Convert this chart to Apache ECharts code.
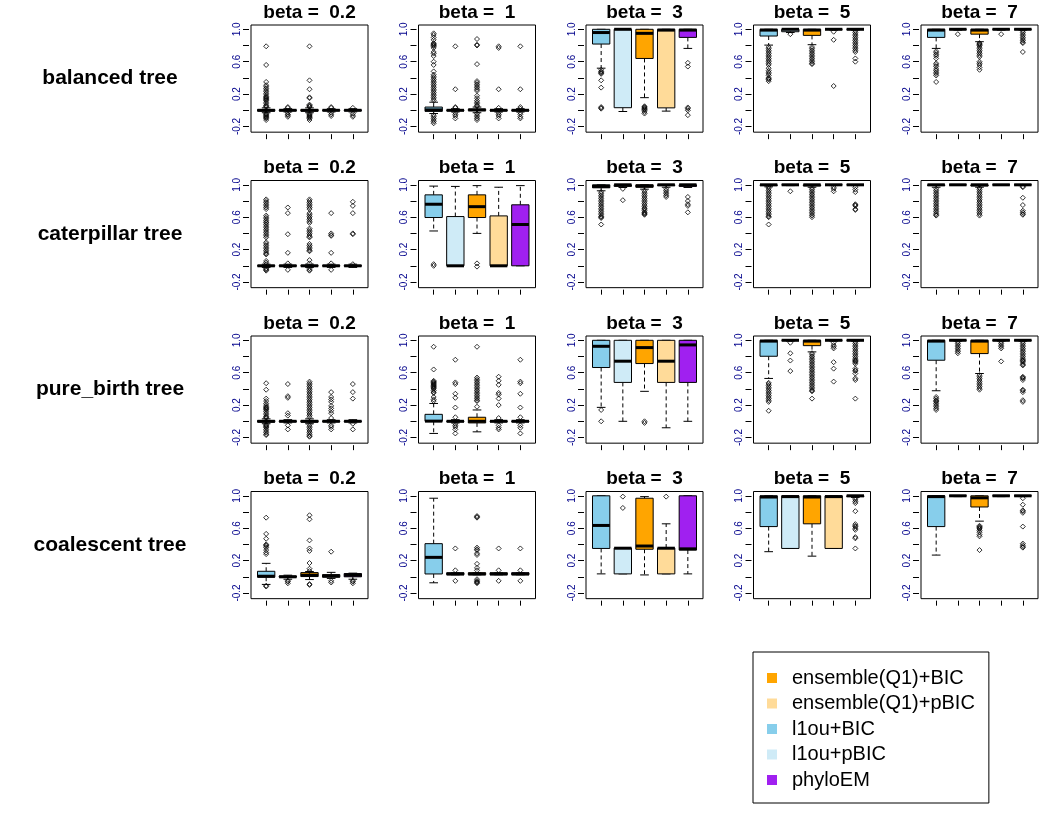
<!DOCTYPE html>
<html>
<head>
<meta charset="utf-8">
<title>boxplots</title>
<script src="https://cdn.jsdelivr.net/npm/echarts@6/dist/echarts.min.js"></script>
<style>
  html, body { margin: 0; padding: 0; background: #fff; }
  #main { width: 1064px; height: 831px; }
</style>
</head>
<body>
<div id="main"></div>
<script>
// ---- data ----
var treeNames = ['balanced tree', 'caterpillar tree', 'pure_birth tree', 'coalescent tree'];
var betaValues = ['0.2', '1', '3', '5', '7'];
var methodNames = ['l1ou+BIC', 'l1ou+pBIC', 'ensemble(Q1)+BIC', 'ensemble(Q1)+pBIC', 'phyloEM'];
var legendOrder = ['ensemble(Q1)+BIC', 'ensemble(Q1)+pBIC', 'l1ou+BIC', 'l1ou+pBIC', 'phyloEM'];
var methodColors = ['#87CEEB', '#CFEBF7', '#FFA500', '#FFDB99', '#A020F0'];
var yTicks = [-0.2, 0, 0.2, 0.4, 0.6, 0.8, 1.0];
var yTickLabels = [-0.2, 0.2, 0.6, 1.0];

// [min, Q1, median, Q3, max] per method, per beta
var balancedBoxes = [
  [[-0.03, -0.01, 0, 0.01, 0.03], [-0.02, -0.005, 0, 0.005, 0.02], [-0.03, -0.01, 0, 0.01, 0.03], [-0.02, -0.005, 0, 0.005, 0.02], [-0.02, -0.005, 0, 0.005, 0.02]],
  [[-0.04, -0.013, 0.005, 0.04, 0.1], [-0.02, -0.005, 0, 0.005, 0.02], [-0.03, -0.005, 0.005, 0.015, 0.04], [-0.02, -0.005, 0, 0.005, 0.02], [-0.02, -0.005, 0, 0.005, 0.02]],
  [[0.52, 0.818, 0.96, 1.0, 1.0], [-0.015, 0.032, 1.0, 1.0, 1.0], [0.156, 0.64, 0.95, 1.0, 1.0], [-0.01, 0.03, 0.99, 1.0, 1.0], [0.764, 0.9, 0.99, 1.0, 1.0]],
  [[0.805, 0.917, 0.99, 1.0, 1.0], [0.96, 0.97, 1.0, 1.0, 1.0], [0.81, 0.925, 0.99, 1.0, 1.0], [0.99, 1.0, 1.0, 1.0, 1.0], [0.99, 1.0, 1.0, 1.0, 1.0]],
  [[0.764, 0.9, 0.99, 1.0, 1.0], [0.99, 1.0, 1.0, 1.0, 1.0], [0.847, 0.94, 0.99, 1.0, 1.0], [0.99, 1.0, 1.0, 1.0, 1.0], [0.99, 1.0, 1.0, 1.0, 1.0]]
];
var balancedOutliers = [
  [[0.79, 0.56, 0.35, 0.31, 0.29, 0.27, 0.25, 0.23, 0.21, 0.19, 0.17, 0.16, 0.15, 0.14, 0.13, 0.12, 0.1, 0.08, 0.06, 0.05, 0.04, -0.04, -0.05, -0.06, -0.07, -0.08, -0.09, -0.1, -0.12],
   [0.04, 0.03, -0.03, -0.05, -0.06, -0.08],
   [0.79, 0.37, 0.26, 0.16, 0.15, 0.07, 0.06, 0.05, 0.04, -0.04, -0.05, -0.06, -0.07, -0.08, -0.09, -0.1, -0.12],
   [0.04, 0.03, -0.03, -0.05, -0.07],
   [0.03, -0.04, -0.06, -0.08]],
  [[0.95, 0.93, 0.9, 0.87, 0.83, 0.82, 0.81, 0.8, 0.79, 0.77, 0.72, 0.7, 0.67, 0.6, 0.56, 0.48, 0.44, 0.42, 0.4, 0.38, 0.36, 0.34, 0.32, 0.3, 0.28, 0.26, 0.24, 0.22, 0.2, 0.18, 0.16, 0.14, 0.12, -0.06, -0.08, -0.1, -0.12, -0.14, -0.16],
   [0.79, 0.26, 0.04, 0.03, -0.03, -0.05, -0.07, -0.1],
   [0.88, 0.81, 0.8, 0.57, 0.36, 0.34, 0.32, 0.3, 0.28, 0.26, 0.24, 0.18, 0.15, 0.12, 0.1, 0.08, 0.06, 0.05, -0.04, -0.06, -0.08, -0.1, -0.12],
   [0.79, 0.77, 0.26, 0.03, -0.03, -0.05, -0.07, -0.1],
   [0.79, 0.26, 0.04, 0.02, -0.03, -0.05, -0.08, -0.1]],
  [[0.5, 0.48, 0.47, 0.46, 0.45, 0.37, 0.28, 0.04, 0.03, 0.02],
   [],
   [0.05, 0.04, 0.03, 0.02, 0.01, 0.0, -0.02, -0.04],
   [],
   [0.586, 0.54, 0.035, 0.02, 0.0, -0.06]],
  [[0.78, 0.76, 0.74, 0.72, 0.7, 0.68, 0.66, 0.64, 0.62, 0.6, 0.58, 0.56, 0.52, 0.49, 0.47, 0.45, 0.43, 0.4, 0.39, 0.38, 0.36],
   [0.94],
   [0.78, 0.76, 0.74, 0.72, 0.7, 0.68, 0.66, 0.64, 0.62, 0.6, 0.58, 0.57],
   [0.97, 0.87, 0.3],
   [0.98, 0.96, 0.94, 0.92, 0.9, 0.88, 0.86, 0.84, 0.82, 0.8, 0.78, 0.76, 0.74, 0.72, 0.64, 0.6]],
  [[0.73, 0.71, 0.69, 0.67, 0.64, 0.58, 0.56, 0.54, 0.51, 0.49, 0.47, 0.45, 0.43, 0.35],
   [0.94],
   [0.83, 0.82, 0.81, 0.8, 0.78, 0.76, 0.74, 0.72, 0.7, 0.68, 0.66, 0.6, 0.58, 0.56, 0.53, 0.5],
   [0.94],
   [0.98, 0.96, 0.94, 0.92, 0.9, 0.88, 0.86, 0.84, 0.83, 0.72]]
];

var caterpillarBoxes = [
  [[-0.02, -0.005, 0, 0.005, 0.02], [-0.02, -0.005, 0, 0.005, 0.02], [-0.02, -0.005, 0, 0.005, 0.02], [-0.02, -0.005, 0, 0.005, 0.02], [-0.02, -0.005, 0, 0.005, 0.02]],
  [[0.43, 0.596, 0.76, 0.876, 0.984], [0, 0, 0, 0.608, 0.98], [0.4, 0.596, 0.73, 0.876, 0.99], [0, 0, 0, 0.616, 0.97], [0, 0, 0.51, 0.753, 0.99]],
  [[0.926, 0.963, 0.98, 1.0, 1.0], [0.967, 0.98, 1.0, 1.0, 1.0], [0.946, 0.97, 0.985, 1.0, 1.0], [0.97, 0.99, 1.0, 1.0, 1.0], [0.967, 0.98, 1.0, 1.0, 1.0]],
  [[0.975, 0.99, 1.0, 1.0, 1.0], [0.99, 1.0, 1.0, 1.0, 1.0], [0.97, 0.985, 1.0, 1.0, 1.0], [0.99, 1.0, 1.0, 1.0, 1.0], [0.99, 1.0, 1.0, 1.0, 1.0]],
  [[0.97, 0.99, 1.0, 1.0, 1.0], [1.0, 1.0, 1.0, 1.0, 1.0], [0.97, 0.985, 1.0, 1.0, 1.0], [1.0, 1.0, 1.0, 1.0, 1.0], [0.99, 1.0, 1.0, 1.0, 1.0]]
];
var caterpillarOutliers = [
  [[0.82, 0.8, 0.78, 0.76, 0.74, 0.72, 0.7, 0.62, 0.6, 0.58, 0.56, 0.54, 0.53, 0.51, 0.49, 0.47, 0.45, 0.43, 0.41, 0.39, 0.37, 0.35, 0.29, 0.27, 0.25, 0.23, 0.21, 0.19, 0.17, 0.15, 0.14, 0.06, 0.04, 0.02, -0.03, -0.04, -0.05, -0.06],
   [0.72, 0.65, 0.39, 0.16, 0.03, -0.05],
   [0.82, 0.8, 0.78, 0.76, 0.74, 0.72, 0.7, 0.65, 0.63, 0.61, 0.59, 0.57, 0.55, 0.53, 0.46, 0.44, 0.42, 0.4, 0.38, 0.36, 0.35, 0.27, 0.25, 0.23, 0.21, 0.19, 0.18, 0.07, 0.03, -0.03, -0.05, -0.06],
   [0.65, 0.4, 0.38, 0.37, 0.16, 0.03, -0.05],
   [0.79, 0.74, 0.65, 0.4, 0.39, 0.02]],
  [[0.02, 0.0], [], [0.03, -0.01], [], []],
  [[0.91, 0.89, 0.87, 0.85, 0.83, 0.81, 0.79, 0.77, 0.75, 0.73, 0.71, 0.69, 0.67, 0.65, 0.63, 0.61, 0.6, 0.59, 0.51],
   [0.95, 0.81],
   [0.93, 0.91, 0.89, 0.87, 0.85, 0.83, 0.81, 0.79, 0.77, 0.75, 0.73, 0.71, 0.7, 0.68, 0.66, 0.65, 0.64, 0.63],
   [0.95, 0.93, 0.91, 0.89, 0.87, 0.85],
   [0.85, 0.8, 0.76, 0.74, 0.66]],
  [[0.97, 0.95, 0.93, 0.91, 0.89, 0.87, 0.85, 0.83, 0.81, 0.79, 0.77, 0.75, 0.73, 0.71, 0.69, 0.67, 0.65, 0.63, 0.61, 0.6, 0.51],
   [0.92],
   [0.96, 0.94, 0.92, 0.9, 0.88, 0.86, 0.84, 0.82, 0.8, 0.78, 0.76, 0.74, 0.72, 0.7, 0.68, 0.66, 0.64, 0.62, 0.6],
   [0.97, 0.95, 0.92],
   [0.97, 0.94, 0.91, 0.76, 0.75, 0.74, 0.7, 0.69]],
  [[0.95, 0.93, 0.91, 0.89, 0.87, 0.85, 0.83, 0.81, 0.79, 0.77, 0.75, 0.73, 0.71, 0.69, 0.67, 0.65, 0.63, 0.62],
   [],
   [0.96, 0.94, 0.92, 0.9, 0.88, 0.86, 0.84, 0.82, 0.8, 0.78, 0.76, 0.74, 0.72, 0.7, 0.68, 0.66, 0.64, 0.62],
   [],
   [0.98, 0.97, 0.84, 0.75, 0.68, 0.66, 0.64, 0.63]]
];

var pureBirthBoxes = [
  [[-0.03, -0.01, 0, 0.01, 0.03], [-0.02, -0.005, 0, 0.005, 0.02], [-0.03, -0.01, 0, 0.01, 0.03], [-0.02, -0.005, 0, 0.005, 0.02], [-0.02, -0.005, 0, 0.005, 0.02]],
  [[-0.15, 0.0, 0.002, 0.086, 0.22], [-0.02, -0.005, 0, 0.005, 0.02], [-0.13, -0.02, 0.0, 0.05, 0.14], [-0.02, -0.005, 0, 0.005, 0.02], [-0.02, -0.005, 0, 0.005, 0.02]],
  [[0.172, 0.664, 0.926, 1.0, 1.0], [0.0, 0.48, 0.742, 1.0, 1.0], [0.37, 0.713, 0.91, 1.0, 1.0], [-0.08, 0.48, 0.742, 1.0, 1.0], [0.0, 0.48, 0.943, 1.0, 1.0]],
  [[0.529, 0.803, 0.99, 1.0, 1.0], [0.99, 1.0, 1.0, 1.0, 1.0], [0.857, 0.934, 0.99, 1.0, 1.0], [0.99, 1.0, 1.0, 1.0, 1.0], [0.99, 1.0, 1.0, 1.0, 1.0]],
  [[0.377, 0.754, 0.99, 1.0, 1.0], [0.99, 1.0, 1.0, 1.0, 1.0], [0.59, 0.836, 0.99, 1.0, 1.0], [0.99, 1.0, 1.0, 1.0, 1.0], [0.99, 1.0, 1.0, 1.0, 1.0]]
];
var pureBirthOutliers = [
  [[0.47, 0.39, 0.28, 0.25, 0.22, 0.2, 0.18, 0.17, 0.16, 0.15, 0.14, 0.12, 0.1, 0.08, 0.06, 0.05, 0.04, -0.04, -0.05, -0.06, -0.07, -0.08, -0.1, -0.12, -0.14, -0.16, -0.17],
   [0.46, 0.31, 0.29, 0.1, 0.07, -0.05, -0.1],
   [0.49, 0.47, 0.45, 0.43, 0.41, 0.39, 0.37, 0.35, 0.33, 0.31, 0.29, 0.27, 0.25, 0.23, 0.21, 0.19, 0.17, 0.15, 0.13, 0.11, 0.09, 0.07, 0.05, -0.04, -0.06, -0.08, -0.1, -0.12, -0.14, -0.16, -0.18, -0.19],
   [0.36, 0.3, 0.27, 0.24, 0.19, 0.16, 0.13, 0.1, 0.04, -0.05, -0.07, -0.1],
   [0.46, 0.36, 0.28, -0.03, -0.1]],
  [[0.92, 0.64, 0.5, 0.49, 0.48, 0.47, 0.46, 0.45, 0.44, 0.43, 0.42, 0.41, 0.4, 0.38, 0.36, 0.35, 0.3, 0.27, 0.25],
   [0.76, 0.48, 0.46, 0.34, 0.29, 0.17, 0.05, -0.03, -0.05, -0.07, -0.1, -0.15],
   [0.92, 0.54, 0.52, 0.5, 0.48, 0.46, 0.44, 0.42, 0.4, 0.38, 0.36, 0.34, 0.32, 0.3, 0.28, 0.26, 0.25, 0.18],
   [0.55, 0.5, 0.45, 0.35, 0.33, 0.28, 0.2, 0.04, -0.05, -0.08, -0.1],
   [0.76, 0.49, 0.47, 0.34, 0.17, 0.05, -0.05, -0.08, -0.15]],
  [[0.14, 0.0], [], [0.0, -0.02], [], []],
  [[0.475, 0.46, 0.44, 0.42, 0.4, 0.38, 0.36, 0.34, 0.32, 0.3, 0.28, 0.26, 0.24, 0.13],
   [0.97, 0.84, 0.75, 0.62],
   [0.84, 0.82, 0.8, 0.78, 0.76, 0.74, 0.72, 0.7, 0.68, 0.66, 0.64, 0.62, 0.6, 0.58, 0.56, 0.54, 0.52, 0.5, 0.48, 0.46, 0.44, 0.42, 0.4, 0.38, 0.37, 0.28],
   [0.97, 0.94, 0.92, 0.9, 0.73, 0.65, 0.49],
   [0.98, 0.96, 0.94, 0.92, 0.9, 0.88, 0.86, 0.84, 0.82, 0.8, 0.78, 0.76, 0.75, 0.74, 0.73, 0.71, 0.65, 0.63, 0.62, 0.59, 0.53, 0.51, 0.28]],
  [[0.3, 0.28, 0.26, 0.25, 0.24, 0.22, 0.2, 0.18, 0.16, 0.14],
   [0.98, 0.96, 0.94, 0.92, 0.9, 0.88, 0.86, 0.84],
   [0.57, 0.55, 0.53, 0.51, 0.49, 0.47, 0.45, 0.43, 0.41, 0.39],
   [0.98, 0.96, 0.94, 0.92, 0.9, 0.74],
   [0.98, 0.96, 0.94, 0.92, 0.9, 0.88, 0.86, 0.84, 0.82, 0.8, 0.78, 0.76, 0.75, 0.74, 0.72, 0.7, 0.69, 0.55, 0.54, 0.53, 0.51, 0.39, 0.38, 0.36, 0.26, 0.24]]
];

var coalescentBoxes = [
  [[-0.094, -0.005, 0.007, 0.068, 0.166], [-0.03, -0.005, 0.0, 0.01, 0.02], [-0.034, 0.003, 0.02, 0.052, 0.065], [-0.02, -0.005, 0.01, 0.027, 0.055], [-0.03, 0.0, 0.02, 0.04, 0.045]],
  [[-0.074, 0.035, 0.24, 0.409, 0.97], [0.025, 0.025, 0.035, 0.05, 0.05], [0.025, 0.025, 0.035, 0.05, 0.05], [0.025, 0.025, 0.035, 0.05, 0.05], [0.025, 0.025, 0.035, 0.05, 0.05]],
  [[0.036, 0.35, 0.634, 1.0, 1.0], [0.036, 0.036, 0.353, 0.355, 0.355], [0.023, 0.34, 0.38, 0.97, 0.99], [0.036, 0.036, 0.353, 0.355, 0.654], [0.036, 0.33, 0.345, 1.0, 1.0]],
  [[0.31, 0.62, 0.985, 1.0, 1.0], [0.35, 0.35, 0.99, 1.0, 1.0], [0.255, 0.654, 0.985, 1.0, 1.0], [0.35, 0.35, 0.99, 1.0, 1.0], [0.98, 0.99, 1.0, 1.0, 1.0]],
  [[0.268, 0.62, 0.99, 1.0, 1.0], [0.99, 1.0, 1.0, 1.0, 1.0], [0.687, 0.862, 0.975, 1.0, 1.0], [0.99, 1.0, 1.0, 1.0, 1.0], [0.99, 1.0, 1.0, 1.0, 1.0]]
];
var coalescentOutliers = [
  [[0.73, 0.53, 0.47, 0.4, 0.39, 0.38, 0.36, 0.33, 0.3, 0.28, -0.11, -0.12],
   [-0.05, -0.06, -0.08],
   [0.76, 0.71, 0.45, 0.35, 0.32, 0.17, 0.1, 0.07, -0.09, -0.1],
   [0.31, -0.05, -0.07],
   [-0.05, -0.06, -0.08]],
  [[],
   [0.35, 0.08, -0.05],
   [0.75, 0.74, 0.73, 0.36, 0.34, 0.33, 0.29, 0.27, 0.16, 0.11, 0.08, -0.03, -0.05, -0.06, -0.07, -0.08],
   [0.35, 0.08, -0.05],
   [0.35, 0.08, -0.05]],
  [[], [0.99, 0.85], [], [0.99], []],
  [[], [], [], [], [0.97, 0.95, 0.93, 0.91, 0.81, 0.65, 0.63, 0.62, 0.6, 0.58, 0.49, 0.475, 0.35]],
  [[], [], [0.63, 0.62, 0.61, 0.6, 0.59, 0.57, 0.55, 0.52, 0.5, 0.33], [], [0.97, 0.89, 0.82, 0.81, 0.79, 0.62, 0.41, 0.39, 0.37, 0.36]]
];

var allBoxes = [balancedBoxes, caterpillarBoxes, pureBirthBoxes, coalescentBoxes];
var allOutliers = [balancedOutliers, caterpillarOutliers, pureBirthOutliers, coalescentOutliers];

// ---- layout ----
var FONT = "'Liberation Sans', Arial, sans-serif";
var colLeft = 251, colStep = 167.5, plotW = 117;
var rowOne = 29.3, rowStep = 155.5, unitPx = 81;
var yMin = -0.27, yMax = 1.053;

// R-style box: dashed whiskers, half-width staples, thick median
function boxRenderer(color) {
    return function (params, api) {
        var x = api.value(0);
        var lo = api.coord([x, api.value(1)]);
        var q1 = api.coord([x, api.value(2)]);
        var md = api.coord([x, api.value(3)]);
        var q3 = api.coord([x, api.value(4)]);
        var hi = api.coord([x, api.value(5)]);
        var half = api.size([0.8, 0])[0] / 2;
        var cap = half / 2;
        var cx = md[0];
        return {
            type: 'group',
            children: [
                { type: 'line', shape: { x1: cx, y1: q3[1], x2: cx, y2: hi[1] }, style: { stroke: '#000', lineWidth: 1, lineDash: [4, 3] } },
                { type: 'line', shape: { x1: cx, y1: q1[1], x2: cx, y2: lo[1] }, style: { stroke: '#000', lineWidth: 1, lineDash: [4, 3] } },
                { type: 'line', shape: { x1: cx - cap, y1: hi[1], x2: cx + cap, y2: hi[1] }, style: { stroke: '#000', lineWidth: 1 } },
                { type: 'line', shape: { x1: cx - cap, y1: lo[1], x2: cx + cap, y2: lo[1] }, style: { stroke: '#000', lineWidth: 1 } },
                { type: 'rect', shape: { x: cx - half, y: q3[1], width: half * 2, height: q1[1] - q3[1] },
                  style: { fill: color, stroke: '#000', lineWidth: 1 } },
                { type: 'line', shape: { x1: cx - half, y1: md[1], x2: cx + half, y2: md[1] },
                  style: { stroke: '#000', lineWidth: 3 } }
            ]
        };
    };
}

function labelFmt(v) { return Number(v).toFixed(1); }

function buildOption() {
    var grids = [], xAxes = [], yAxes = [], series = [], graphics = [];
    for (var r = 0; r < treeNames.length; r++) {
        var y1 = rowOne + rowStep * r;
        var top = y1 - (yMax - 1.0) * unitPx;
        var h = (yMax - yMin) * unitPx;

        graphics.push({
            type: 'text', x: 110, y: top + h / 2,
            style: { text: treeNames[r], font: 'bold 21px ' + FONT, fill: '#000', align: 'center', verticalAlign: 'middle' }
        });

        for (var c = 0; c < betaValues.length; c++) {
            var gi = grids.length;
            var left = colLeft + colStep * c;
            grids.push({ left: left, top: top, width: plotW, height: h, show: true, borderColor: '#000', borderWidth: 1 });
            xAxes.push({
                gridIndex: gi, type: 'value', min: 0.3, max: 5.7, offset: 2, position: 'bottom',
                axisLine: { show: false, onZero: false }, splitLine: { show: false }, axisLabel: { show: false },
                axisTick: { show: true, length: 5, customValues: [1, 2, 3, 4, 5], lineStyle: { color: '#000' } }
            });
            yAxes.push({
                gridIndex: gi, type: 'value', min: yMin, max: yMax, offset: 2, position: 'left',
                axisLine: { show: false, onZero: false }, splitLine: { show: false },
                axisTick: { show: true, length: 6, customValues: yTicks.slice(), lineStyle: { color: '#000' } },
                axisLabel: {
                    customValues: yTickLabels.slice(), rotate: 90, margin: 7, fontSize: 10, color: '#00008B',
                    formatter: labelFmt
                }
            });

            graphics.push({
                type: 'text', x: left + plotW / 2, y: y1 - 17,
                style: { text: 'beta =  ' + betaValues[c], font: 'bold 19px ' + FONT, fill: '#000', align: 'center', verticalAlign: 'middle' }
            });

            var boxes = allBoxes[r][c];
            var outs = allOutliers[r][c];
            var outData = [];
            for (var m = 0; m < methodNames.length; m++) {
                series.push({
                    type: 'custom', name: methodNames[m], xAxisIndex: gi, yAxisIndex: gi,
                    itemStyle: { color: methodColors[m] },
                    renderItem: boxRenderer(methodColors[m]),
                    encode: { x: 0, y: [1, 2, 3, 4, 5] },
                    data: [[m + 1].concat(boxes[m])]
                });
                for (var k = 0; k < outs[m].length; k++) outData.push([m + 1, outs[m][k]]);
            }
            series.push({
                type: 'scatter', name: 'outliers', xAxisIndex: gi, yAxisIndex: gi,
                symbol: 'diamond', symbolSize: 5,
                itemStyle: { color: 'transparent', borderColor: '#000', borderWidth: 1 },
                data: outData, silent: true
            });
        }
    }
    return {
        animation: false,
        grid: grids,
        xAxis: xAxes,
        yAxis: yAxes,
        series: series,
        graphic: graphics,
        legend: {
            data: legendOrder.slice(), orient: 'vertical', left: 753, top: 652,
            padding: [16, 14, 13, 14], itemGap: 5.5, itemWidth: 30, itemHeight: 10,
            icon: 'path://M0,0H10V10H0Z', borderColor: '#000', borderWidth: 1,
            selectedMode: false,
            textStyle: { fontSize: 20, color: '#000', fontFamily: FONT, lineHeight: 20 }
        }
    };
}

var chart = echarts.init(document.getElementById('main'));
chart.setOption(buildOption());
</script>
</body>
</html>
